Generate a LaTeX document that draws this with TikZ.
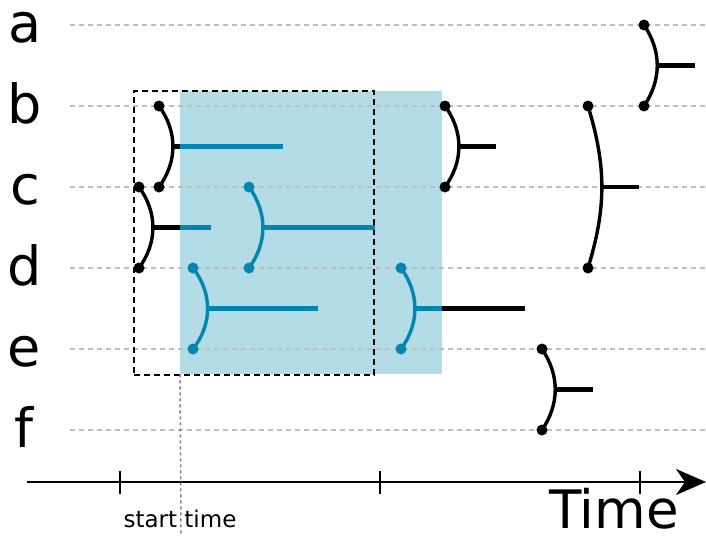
\documentclass[tikz,border=0pt]{standalone}
\usepackage{fontspec}
\setmainfont{DejaVu Sans}
\usetikzlibrary{arrows.meta}
\definecolor{winblue}{RGB}{179,220,230}
\definecolor{mergeteal}{RGB}{0,134,176}
\definecolor{trackgray}{RGB}{190,190,190}

\begin{document}
\begin{tikzpicture}[x=1pt,y=-1pt]
	\tikzstyle{lab}=[inner sep=0pt, anchor=base, font=\fontsize{54}{60}\selectfont]
	\tikzstyle{track}=[draw=trackgray, line width=1.6pt, dash pattern=on 5pt off 4pt]
	\tikzstyle{dot}=[circle, fill, inner sep=0pt, minimum size=11pt]
	\tikzstyle{arc}=[line width=3.4pt]
	\tikzstyle{bar}=[line width=4.5pt]
	\useasboundingbox (0,0) rectangle (706,535);
	% window
	\node[fill=winblue, inner sep=0pt, anchor=north west, minimum width=262pt, minimum height=283pt] (win) at (180,91) {};
	% lanes
	\node[lab] (a) at (25,42) {a};
	\node[lab] (b) at (25,123) {b};
	\node[lab] (c) at (25,204) {c};
	\node[lab] (d) at (25,285) {d};
	\node[lab] (e) at (24,366) {e};
	\node[lab] (f) at (24,447) {f};
	\draw[track] (70,25) -- (706,25);
	\draw[track] (70,106) -- (706,106);
	\draw[track] (70,187) -- (706,187);
	\draw[track] (70,268) -- (706,268);
	\draw[track] (70,349) -- (706,349);
	\draw[track] (70,430) -- (706,430);
	\node[draw, line width=2pt, dash pattern=on 6pt off 4pt, inner sep=0pt, anchor=north west, minimum width=240pt, minimum height=284pt] (box) at (133,90) {};
	% merges
	\node[dot] (b1) at (159,106) {};
	\node[dot] (c1) at (159,187) {};
	\draw[arc] (b1.center) to[bend left=36] coordinate[pos=0.5] (m1) (c1.center);
	\draw[bar] (m1) -- (m1 -| win.west);
	\draw[bar, mergeteal] (m1 -| win.west) -- ++(103,0);
	\node[dot] (c2) at (139,187) {};
	\node[dot] (d2) at (139,268) {};
	\draw[arc] (c2.center) to[bend left=36] coordinate[pos=0.5] (m2) (d2.center);
	\draw[bar] (m2) -- (m2 -| win.west);
	\draw[bar, mergeteal] (m2 -| win.west) -- ++(31,0);
	\node[dot, mergeteal] (c3) at (249,187) {};
	\node[dot, mergeteal] (d3) at (249,268) {};
	\draw[arc, mergeteal] (c3.center) to[bend left=36] coordinate[pos=0.5] (m3) (d3.center);
	\draw[bar, mergeteal] (m3) -- (m3 -| box.east);
	\node[dot, mergeteal] (d4) at (193,268) {};
	\node[dot, mergeteal] (e4) at (193,349) {};
	\draw[arc, mergeteal] (d4.center) to[bend left=38] coordinate[pos=0.5] (m4) (e4.center);
	\draw[bar, mergeteal] (m4) -- ++(110,0);
	\node[dot, mergeteal] (d5) at (401,268) {};
	\node[dot, mergeteal] (e5) at (401,349) {};
	\draw[arc, mergeteal] (d5.center) to[bend left=36] coordinate[pos=0.5] (m5) (e5.center);
	\draw[bar, mergeteal] (m5) -- (m5 -| win.east);
	\draw[bar] (m5 -| win.east) -- ++(83,0);
	\node[dot] (b6) at (445,106) {};
	\node[dot] (c6) at (445,187) {};
	\draw[arc] (b6.center) to[bend left=36] coordinate[pos=0.5] (m6) (c6.center);
	\draw[bar] (m6) -- ++(37,0);
	\node[dot] (a7) at (644,25) {};
	\node[dot] (b7) at (644,106) {};
	\draw[arc] (a7.center) to[bend left=34] coordinate[pos=0.5] (m7) (b7.center);
	\draw[bar] (m7) -- ++(38,0);
	\node[dot] (b8) at (588,106) {};
	\node[dot] (d8) at (588,268) {};
	\draw[arc] (b8.center) to[bend left=17] coordinate[pos=0.5] (m8) (d8.center);
	\draw[bar] (m8) -- ++(37,0);
	\node[dot] (e9) at (542,349) {};
	\node[dot] (f9) at (542,430) {};
	\draw[arc] (e9.center) to[bend left=34] coordinate[pos=0.5] (m9) (f9.center);
	\draw[bar] (m9) -- ++(38,0);
	% time axis
	\coordinate (t0) at (27,482);
	\coordinate (t1) at (706,482);
	\draw[line width=2.2pt, -{Stealth[length=30pt, width=26pt, inset=9pt]}] (t0) -- (t1);
	\draw[line width=1.6pt] (120,471) -- (120,494);
	\draw[line width=1.6pt] (380,471) -- (380,494);
	\draw[line width=1.6pt] (640,471) -- (640,494);
	\draw[gray, line width=1.5pt, dash pattern=on 3pt off 3pt] (win.south west) -- (181,535);
	\node[inner sep=0pt, anchor=base, font=\fontsize{23}{26}\selectfont] (start) at (180,527) {start time};
	\node[inner sep=0pt, anchor=base, font=\fontsize{53}{60}\selectfont] (time) at (614,528) {Time};
\end{tikzpicture}
\end{document}
